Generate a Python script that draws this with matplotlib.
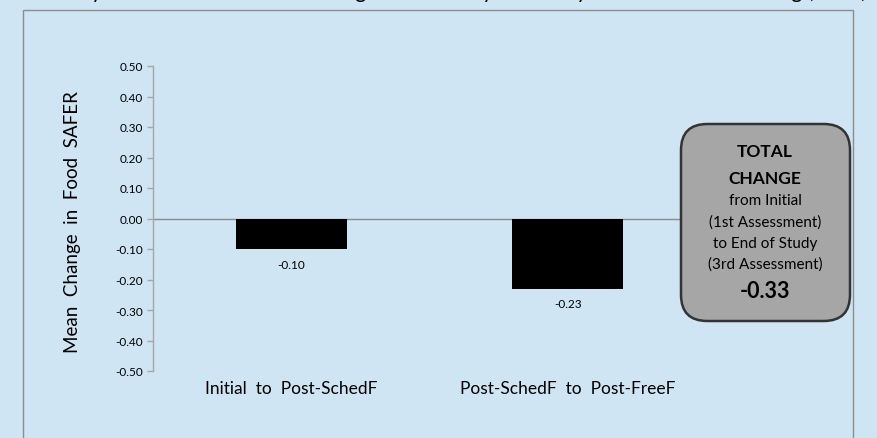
import matplotlib
matplotlib.use("Agg")
import matplotlib.pyplot as plt
from matplotlib.patches import FancyBboxPatch, Rectangle

# ---- data ----
categories = ["Initial  to  Post-SchedF", "Post-SchedF  to  Post-FreeF"]
values = [-0.10, -0.23]
yticks = [0.50, 0.40, 0.30, 0.20, 0.10, 0.00, -0.10, -0.20, -0.30, -0.40, -0.50]
ylabel = "Mean  Change  in  Food  SAFER"
title = "Study 1: Mean Food SAFER Change in Scores by the Study Phase at Home Setting (n=18)"
box_lines = ["TOTAL", "CHANGE", "from Initial", "(1st Assessment)", "to End of Study", "(3rd Assessment)"]
total_change = round(sum(values), 2)

BG = "#CFE5F3"
FONT = ["Lato", "DejaVu Sans"]
plt.rcParams["font.family"] = FONT

fig = plt.figure(figsize=(8.77, 4.39), dpi=100, facecolor=BG)

# inner chart frame
fig.patches.append(Rectangle((23 / 877, -0.05), (853 - 23) / 877, 1.05 - 11 / 439,
                             transform=fig.transFigure, facecolor="none", edgecolor="#8C8C8C",
                             linewidth=1.0, zorder=-1))

# partially visible title (cut off at top of the picture, as in the reference)
fig.text(458 / 877, 1.0 + 1.5 / 439, title, ha="center", va="baseline", fontsize=15, color="black")

ax = fig.add_axes([153 / 877, 1 - 372 / 439, (706 - 153) / 877, (372 - 67) / 439])
ax.set_facecolor("none")
x = list(range(len(categories)))
ax.bar(x, values, width=0.40, color="black", zorder=3)
ax.set_xlim(-0.5, len(categories) - 0.5)
ax.set_ylim(-0.5, 0.5)
ax.axhline(0, color="#8C8C8C", linewidth=1.0, zorder=2)

ax.set_yticks(yticks)
ax.set_yticklabels([f"{t:.2f}" for t in yticks], fontsize=8.5)
ax.tick_params(axis="y", length=4, width=1, color="#A6A6A6", pad=3)
ax.set_xticks([])
for s in ["top", "right", "bottom"]:
    ax.spines[s].set_visible(False)
ax.spines["left"].set_color("#A6A6A6")
ax.spines["left"].set_linewidth(1.0)

for xi, c in zip(x, categories):
    ax.annotate(c, (xi, -0.5), xytext=(0, -12), textcoords="offset points",
                ha="center", va="center", fontsize=12.5)
for xi, v in zip(x, values):
    ax.annotate(f"{v:.2f}", (xi, v), xytext=(0, -11), textcoords="offset points",
                ha="center", va="center", fontsize=8.5)

fig.text(73 / 877, 1 - 222 / 439, ylabel, rotation=90, ha="center", va="center", fontsize=13.5)

# total change box
bx0, bx1, by0, by1 = 681, 850, 125, 322
box = FancyBboxPatch((bx0 / 877, 1 - by1 / 439), (bx1 - bx0) / 877, (by1 - by0) / 439,
                     boxstyle="round,pad=0,rounding_size=0.03", transform=fig.transFigure,
                     facecolor="#A6A6A6", edgecolor="#333333", linewidth=1.8, zorder=5,
                     mutation_aspect=877 / 439)
fig.patches.append(box)
ys = [152, 179, 201, 223, 244, 265]
for i, (line, yy) in enumerate(zip(box_lines, ys)):
    fig.text(765 / 877, 1 - yy / 439, line, ha="center", va="center",
             fontsize=12.5 if i < 2 else 11, fontweight="bold" if i < 2 else "normal", zorder=6)
fig.text(765 / 877, 1 - 291 / 439, f"{total_change:.2f}", ha="center", va="center",
         fontsize=15.5, fontweight="bold", zorder=6)

fig.savefig("out.png", dpi=100, facecolor=BG)
